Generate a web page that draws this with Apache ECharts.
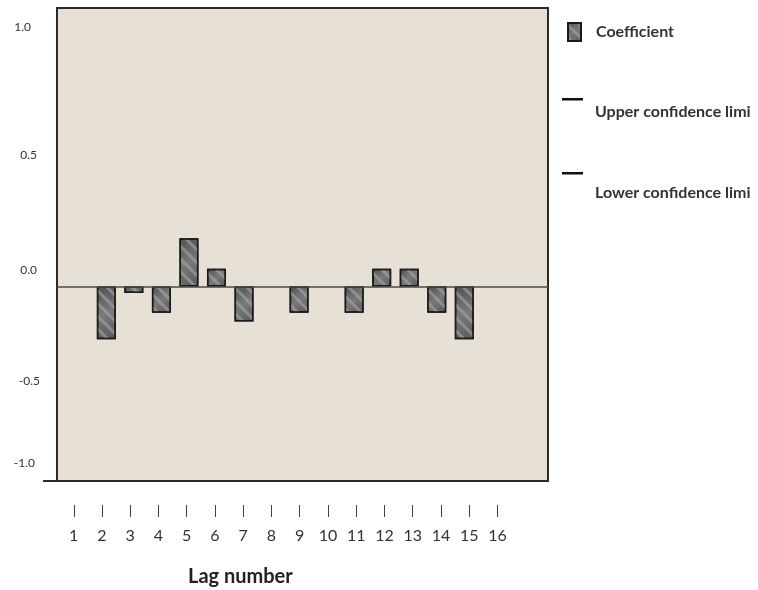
<!DOCTYPE html>
<html><head><meta charset="utf-8">
<script src="https://cdn.jsdelivr.net/npm/echarts@6/dist/echarts.min.js"></script>
<style>html,body{margin:0;padding:0;background:#fff}#c{width:758px;height:590px}</style>
</head><body><div id="c"></div>
<script>
// ---- data ----
const lags = [1,2,3,4,5,6,7,8,9,10,11,12,13,14,15,16];
const coefficients = [null,-0.24,-0.03,-0.12,0.22,0.08,-0.16,null,-0.12,null,-0.12,0.08,0.08,-0.12,-0.24,null];
const yTickValues = [-1.0,-0.5,0.0,0.5,1.0];
const seriesNames = ['Coefficient','Upper confidence limi','Lower confidence limi'];
const xAxisTitle = 'Lag number';

// ---- styling (label placement tweaks, padding [top,right,bottom,left]) ----
const yLabelPad = {'1.0':[0,9,25,0],'0.5':[11,3,0,0],'0.0':[22,3,0,0],'-0.5':[24,0,0,0],'-1.0':[0,5,32,0]};
const FONT = 'Lato';

const barData = lags.map((l,i)=>[l, coefficients[i]]).filter(d=>d[1]!==null);
const yRich = {};
yTickValues.forEach((v,i)=>{ yRich['y'+i] = {padding:yLabelPad[v.toFixed(1)],fontFamily:FONT,fontSize:12,color:'#333'}; });

const chart = echarts.init(document.getElementById('c'), null, {renderer:'canvas'});
chart.setOption({
  animation:false,
  backgroundColor:'#ffffff',
  title:{text:xAxisTitle,left:188,top:567,padding:0,
    textStyle:{fontFamily:FONT,fontWeight:'bold',fontSize:20,color:'#222'}},
  grid:{left:57,right:210,top:8,bottom:109,show:true,backgroundColor:'#e7e0d4',
    borderColor:'#2a2a2a',borderWidth:2,containLabel:false},
  legend:[
    {data:[{name:seriesNames[0],icon:'rect'}],left:567,top:22,padding:0,itemWidth:13,itemHeight:18,selectedMode:false,
      textStyle:{fontFamily:FONT,fontWeight:'bold',fontSize:16,color:'#333',padding:[0,0,0,10]}},
    {data:[{name:seriesNames[1],icon:'path://M0,0H21V2.5H0Z M0,27.99H0.01V28H0Z'}],left:562,top:98,padding:0,itemWidth:21,itemHeight:28,selectedMode:false,
      textStyle:{fontFamily:FONT,fontWeight:'bold',fontSize:16,color:'#333',padding:[0,0,0,7]}},
    {data:[{name:seriesNames[2],icon:'path://M0,0H21V2.5H0Z M0,40.99H0.01V41H0Z'}],left:562,top:172,padding:0,itemWidth:21,itemHeight:41,selectedMode:false,
      textStyle:{fontFamily:FONT,fontWeight:'bold',fontSize:16,color:'#333',padding:[0,0,0,7]}}
  ],
  xAxis:[
    {type:'value',min:0.208,max:18.04,show:false},
    {type:'value',min:0.407,max:17.788,position:'bottom',offset:24,
      axisLine:{show:false,onZero:false},splitLine:{show:false},
      axisTick:{show:true,length:12,customValues:lags,lineStyle:{color:'#444',width:1}},
      axisLabel:{show:true,customValues:lags,margin:23,fontFamily:FONT,fontSize:16,color:'#333',
        formatter:v=>String(v)}}
  ],
  yAxis:[
    {type:'value',min:-0.886,max:1.268,show:false},
    {type:'value',min:-1.010,max:1.144,position:'left',
      axisLine:{show:false,onZero:false},axisTick:{show:false},splitLine:{show:false},
      axisLabel:{customValues:yTickValues,margin:17,rich:yRich,
        formatter:v=>{const i=yTickValues.indexOf(Math.round(v*10)/10);return '{y'+i+'|'+v.toFixed(1)+'}';}}}
  ],
  graphic:[{type:'line',shape:{x1:43,y1:481,x2:57,y2:481},style:{stroke:'#2a2a2a',lineWidth:2},z:10}],
  series:[
    {name:seriesNames[0],type:'bar',xAxisIndex:0,yAxisIndex:0,data:barData,barWidth:19,
      itemStyle:{
        color:new echarts.graphic.LinearGradient(0,0,1,1,[{offset:0,color:'#505050'},{offset:0.5,color:'#7a7a7a'},{offset:1,color:'#5a5a5a'}]),
        borderColor:'#1a1a1a',borderWidth:1.5,
        decal:{symbol:'rect',color:'rgba(170,170,170,0.55)',dashArrayX:[1,0],dashArrayY:[3,6],rotation:Math.PI/4}
      },
      markLine:{silent:true,symbol:'none',label:{show:false},
        lineStyle:{color:'#4a4a4a',width:1.5,type:'solid'},data:[{yAxis:0}]}
    },
    {name:seriesNames[1],type:'line',xAxisIndex:0,yAxisIndex:0,data:[],color:'#111',lineStyle:{color:'#111'}},
    {name:seriesNames[2],type:'line',xAxisIndex:0,yAxisIndex:0,data:[],color:'#111',lineStyle:{color:'#111'}}
  ]
});
</script></body></html>
